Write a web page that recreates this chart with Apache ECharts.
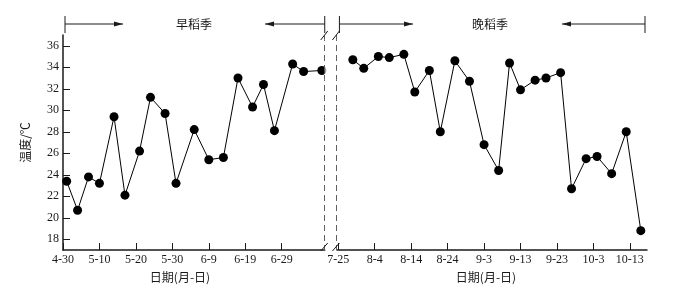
<!DOCTYPE html>
<html>
<head>
<meta charset="utf-8">
<script src="https://cdn.jsdelivr.net/npm/echarts@6/dist/echarts.min.js"></script>
<style>
  html, body { margin: 0; padding: 0; background: #fff; }
  #chart { width: 688px; height: 290px; }
</style>
</head>
<body>
<div id="chart"></div>
<script>
// 早稻季 / 晚稻季 temperatures (月-日, ℃)
const earlyDates = ['5-1', '5-4', '5-7', '5-10', '5-14', '5-17', '5-21', '5-24', '5-28', '5-31',
  '6-5', '6-9', '6-13', '6-17', '6-21', '6-24', '6-27', '7-2', '7-5', '7-10']
const earlyTemps = [23.4, 20.7, 23.8, 23.2, 29.4, 22.1, 26.2, 31.2, 29.7, 23.2,
  28.2, 25.4, 25.6, 33.0, 30.3, 32.4, 28.1, 34.3, 33.6, 33.7]
const lateDates = ['7-29', '8-1', '8-5', '8-8', '8-12', '8-15', '8-19', '8-22', '8-26', '8-30',
  '9-3', '9-7', '9-10', '9-13', '9-17', '9-20', '9-24', '9-27', '10-1', '10-4', '10-8', '10-12', '10-16']
const lateTemps = [34.7, 33.9, 35.0, 34.9, 35.2, 31.7, 33.7, 28.0, 34.6, 32.7,
  26.8, 24.4, 34.4, 31.9, 32.8, 33.0, 33.5, 22.7, 25.5, 25.7, 24.1, 28.0, 18.8]
const tickDates = ['4-30', '5-10', '5-20', '5-30', '6-9', '6-19', '6-29',
  '7-25', '8-4', '8-14', '8-24', '9-3', '9-13', '9-23', '10-3', '10-13']
const yTicks = [18, 20, 22, 24, 26, 28, 30, 32, 34, 36]
const seasons = ['早稻季', '晚稻季']

// days counted from 4-30
const dayOf = s => {
  const [m, d] = s.split('-').map(Number)
  return Math.round((Date.UTC(2000, m - 1, d) - Date.UTC(2000, 3, 30)) / 86400000)
}
const tickVals = tickDates.map(dayOf)
const tickText = {}
tickDates.forEach((t, i) => { tickText[tickVals[i]] = t })

const serif = '"Liberation Serif", "Times New Roman", serif'
const cjk = '"Noto Sans CJK SC", sans-serif'
const ink = '#1a1a1a'

const lineSeries = (dates, temps) => ({
  type: 'line',
  data: dates.map((d, i) => [dayOf(d), temps[i]]),
  symbol: 'circle',
  symbolSize: 9,
  itemStyle: { color: '#000' },
  lineStyle: { color: '#000', width: 1 },
  clip: false,
})

const chart = echarts.init(document.getElementById('chart'))

const option = {
  animation: false,
  backgroundColor: '#fff',
  grid: { left: 63, right: 41, top: 35, bottom: 40 },
  xAxis: {
    type: 'value',
    min: 0,
    max: 170.7,
    breaks: [{ start: 71.8, end: 85.5, gap: '2%' }],
    breakArea: {
      show: true,
      expandOnClick: false,
      zigzagAmplitude: 0,
      itemStyle: { color: '#fff', borderColor: ink, borderWidth: 1, borderType: [6, 4] },
    },
    axisLine: { lineStyle: { color: ink, width: 1.5 } },
    axisTick: { inside: true, length: 7, customValues: tickVals, lineStyle: { color: ink } },
    axisLabel: {
      customValues: tickVals,
      formatter: v => tickText[v] || '',
      margin: 4,
      color: ink,
      fontFamily: serif,
      fontSize: 12,
    },
    splitLine: { show: false },
  },
  yAxis: {
    type: 'value',
    min: 17,
    max: 37,
    name: '温度/℃',
    nameLocation: 'middle',
    nameGap: 32,
    nameTextStyle: { fontFamily: cjk, fontSize: 12, color: ink },
    axisLine: { show: true, lineStyle: { color: ink, width: 1.5 } },
    axisTick: { show: true, inside: true, length: 7, customValues: yTicks, lineStyle: { color: ink } },
    axisLabel: { customValues: yTicks, margin: 4, color: ink, fontFamily: serif, fontSize: 12 },
    splitLine: { show: false },
  },
  series: [lineSeries(earlyDates, earlyTemps), lineSeries(lateDates, lateTemps)],
}
chart.setOption(option)

// annotations: season brackets, axis names, break slashes
const px = v => chart.convertToPixel({ xAxisIndex: 0 }, v)
const yAxisBottom = chart.convertToPixel({ yAxisIndex: 0 }, 17)
const bL = px(71.8), bR = px(85.5)
const stroke = { stroke: ink, lineWidth: 1 }
const g = []
const line = (x1, y1, x2, y2) => g.push({ type: 'line', shape: { x1, y1, x2, y2 }, style: stroke, z: 100 })
const arrowHead = (x, y, dir) => g.push({
  type: 'polygon', shape: { points: [[x, y], [x - dir * 9, y - 2.5], [x - dir * 9, y + 2.5]] },
  style: { fill: ink }, z: 100,
})
const bracket = (x0, x1, a0, a1, label, cx) => {
  const y = 24
  line(x0, 16, x0, 33)
  line(x1, 16, x1, 33)
  line(x0, y, a0, y)
  arrowHead(a0, y, 1)
  line(a1, y, x1, y)
  arrowHead(a1, y, -1)
  g.push({ type: 'text', x: cx, y: y, style: { text: label, font: '12px ' + cjk, fill: ink, align: 'center', verticalAlign: 'middle' }, z: 100 })
}
bracket(65, bL, 123, 265, seasons[0], 194)
bracket(bR + 3, 645, 413, 562, seasons[1], 490)

// gap in the x axis line, with slashes at the break
g.push({ type: 'rect', shape: { x: bL + 1, y: yAxisBottom - 2, width: bR - bL - 4, height: 4 }, style: { fill: '#fff' }, z: 99 })
;[bL, bR].forEach(x => {
  line(x - 4, yAxisBottom + 1, x + 3, yAxisBottom - 7)
  line(x - 4, 40, x + 3, 31)
})
// clear dashes above the top slashes
g.push({ type: 'rect', shape: { x: bL - 2, y: 34, width: bR - bL + 4, height: 4 }, style: { fill: '#fff' }, z: 99 })

g.push({ type: 'text', x: 180, y: 277, style: { text: '日期(月-日)', font: '12px ' + cjk, fill: ink, align: 'center', verticalAlign: 'middle' } })
g.push({ type: 'text', x: 486, y: 277, style: { text: '日期(月-日)', font: '12px ' + cjk, fill: ink, align: 'center', verticalAlign: 'middle' } })

chart.setOption({ graphic: g })
</script>
</body>
</html>
